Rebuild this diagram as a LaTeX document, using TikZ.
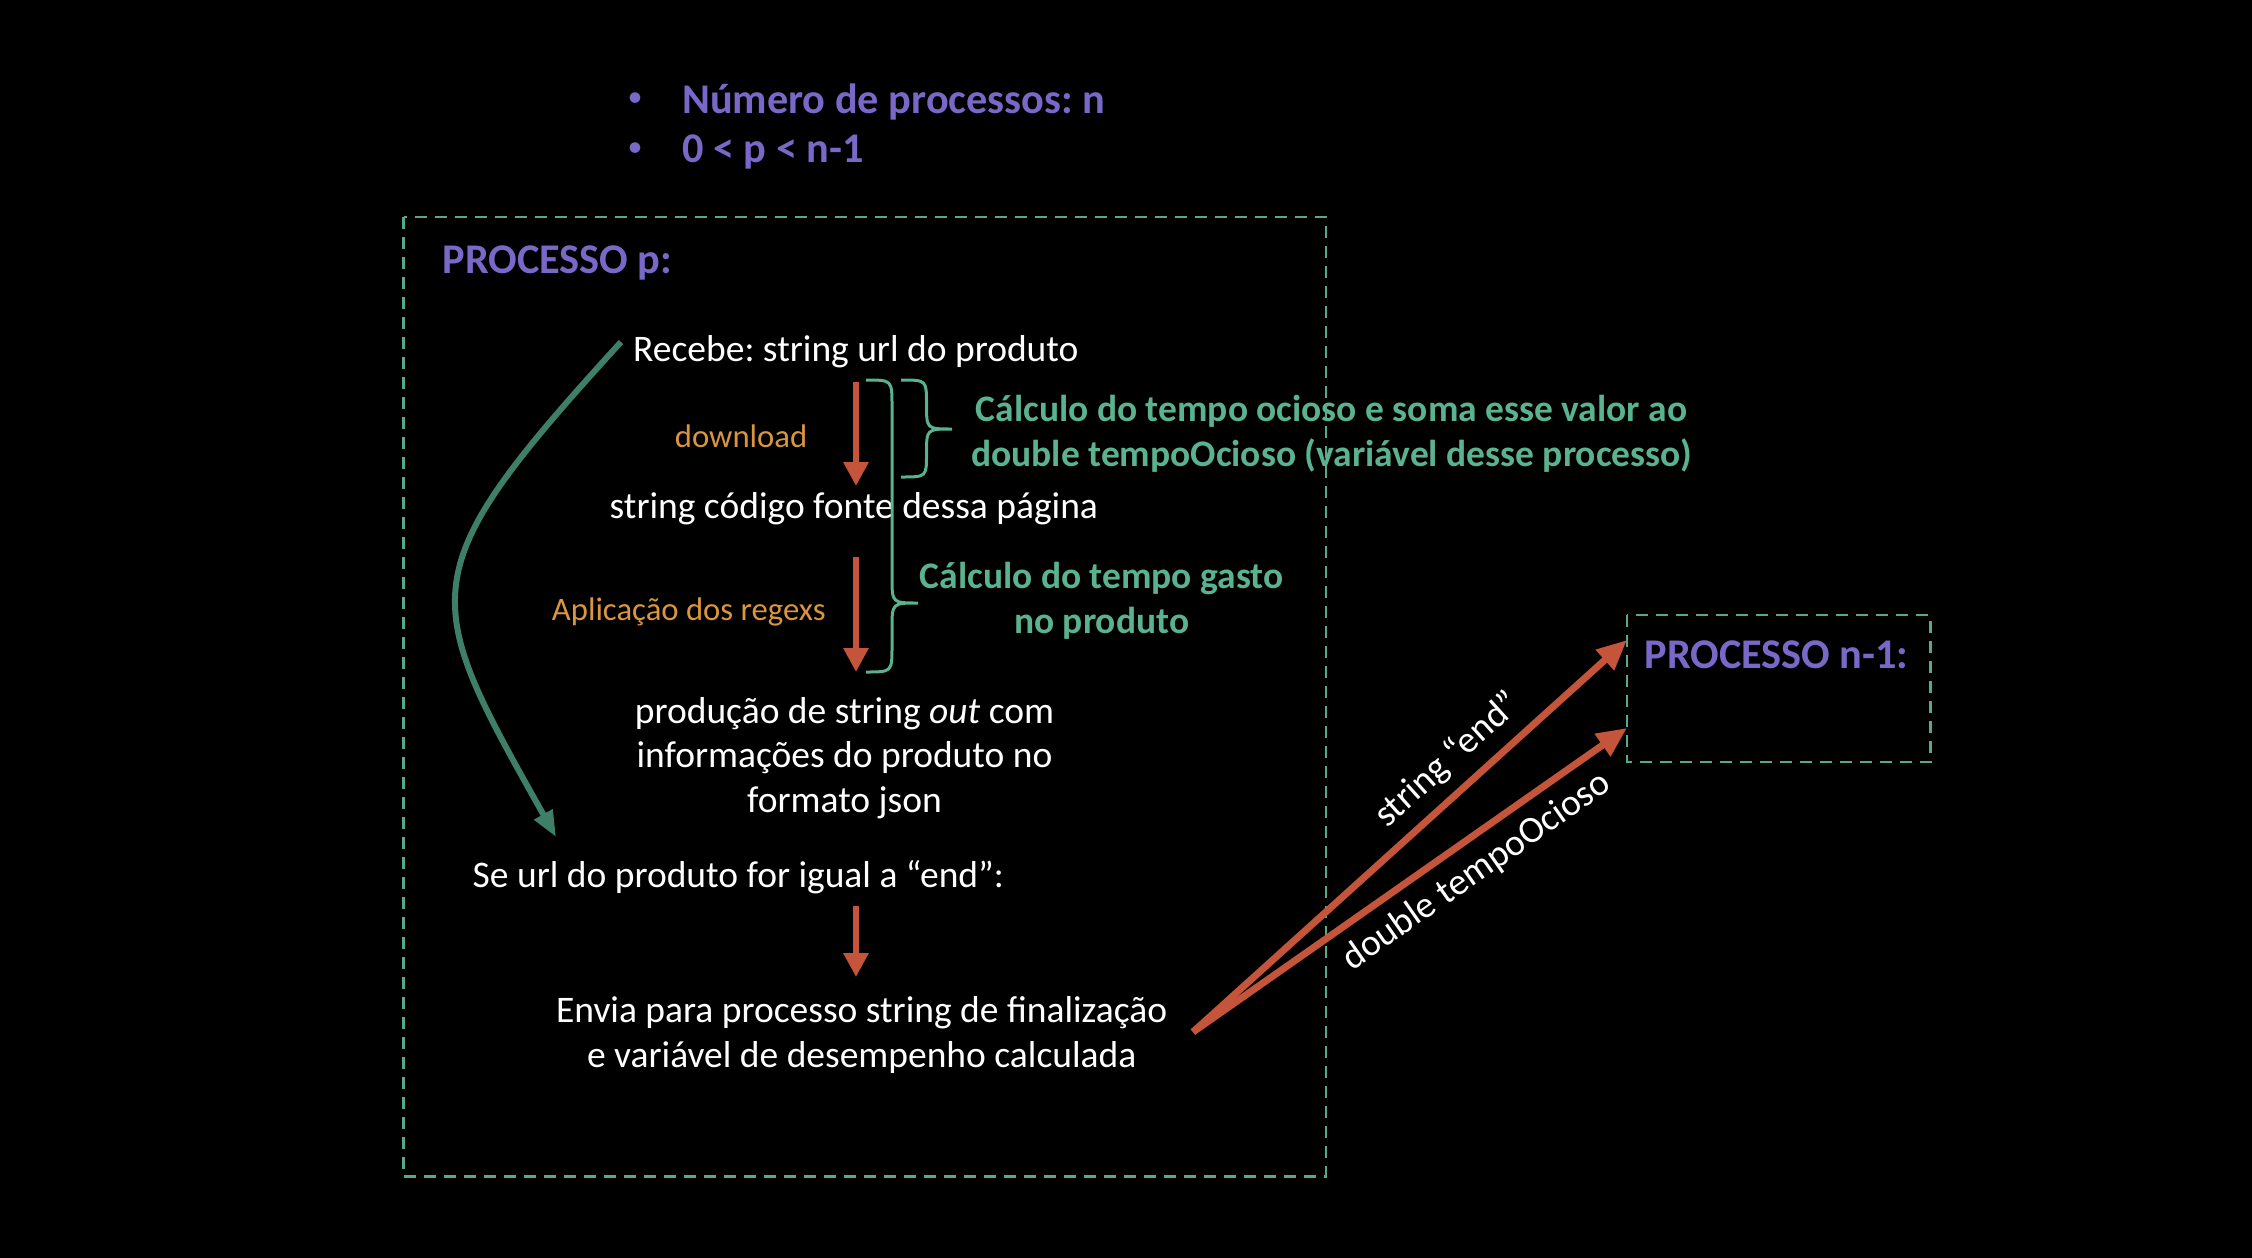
\documentclass[tikz,border=0pt]{standalone}
\usepackage{fontspec}
\setmainfont{Carlito}
\usetikzlibrary{arrows.meta}
\definecolor{purp}{RGB}{122,104,200}
\definecolor{grtxt}{RGB}{90,178,143}
\definecolor{boxgreen}{RGB}{86,170,138}
\definecolor{curvegreen}{RGB}{62,127,104}
\definecolor{orng}{RGB}{218,150,62}
\definecolor{redc}{RGB}{196,84,58}
\newcommand\bodyfnt{\fontsize{37.5}{44.7}\selectfont}
\newcommand\headfnt{\fontsize{42.3}{49}\selectfont\bfseries}
\newcommand\smallfnt{\fontsize{32.7}{39}\selectfont}
\newcommand\bulletfnt{\fontsize{30}{32}\selectfont}
\frenchspacing
\begin{document}
\begin{tikzpicture}[x=1pt,y=-1pt,
  txt/.style={text=white, font=\bodyfnt, inner sep=0pt, align=center},
  grn/.style={text=grtxt, font=\bodyfnt\bfseries, inner sep=0pt, align=center},
  org/.style={text=orng, font=\smallfnt, inner sep=0pt},
  head/.style={text=purp, font=\headfnt, inner sep=0pt},
  bulletmark/.style={text=purp, font=\bulletfnt, inner sep=0pt},
  redarrow/.style={draw=redc, line width=6pt, -{Triangle[length=24pt,width=24pt]}},
  bigred/.style={draw=redc, line width=7pt, -{Triangle[length=30pt,width=26pt]}},
  procbox/.style={draw=boxgreen, line width=2.5pt, dash pattern=on 12pt off 8pt},
  bracestyle/.style={draw=grtxt, line width=3pt},
  loopcurve/.style={draw=curvegreen, line width=6pt, -{Triangle[length=26pt,width=20pt]}}]
\fill[black] (0,0) rectangle (2252,1258);
\useasboundingbox (0,0) rectangle (2252,1258);

% header bullets
\node[bulletmark, anchor=center] (b1) at (635,99.3) {•};
\node[head, anchor=base west] (h1) at (682,113.3) {Número de processos: n};
\node[bulletmark, anchor=center] (b2) at (635,149.3) {•};
\node[head, anchor=base west] (h2) at (682,162.7) {0 < p < n-1};

% boxes
\draw[procbox] (403.6,217) rectangle (1326,1176.3);
\draw[procbox] (1627,615) rectangle (1930.5,762);
\node[head, anchor=base west] (pp) at (442.3,273) {PROCESSO p:};
\node[head, anchor=base west] (pn) at (1644.4,668) {PROCESSO n-1:};

% texts (multi-line nodes: base = baseline of last line)
\node[txt, anchor=base west] (recebe) at (633,361.7) {Recebe: string url do produto};
\node[txt, anchor=base] (codigo) at (853.9,518) {string código fonte dessa página};
\node[txt, anchor=base] (producao) at (844.5,812.4) {produção de string \textit{out} com\\informações do produto no\\formato json};
\node[txt, anchor=base west] (seurl) at (472.5,887) {Se url do produto for igual a “end”:};
\node[txt, anchor=base] (envia) at (861.7,1067) {Envia para processo string de finalização\\e variável de desempenho calculada};

\node[org, anchor=base east] (download) at (807.5,447) {download};
\node[org, anchor=base east] (regex) at (825.8,620.7) {Aplicação dos regexs};

\node[grn, anchor=base] (ocioso) at (1331.5,466) {Cálculo do tempo ocioso e soma esse valor ao\\double tempoOcioso (variável desse processo)};
\node[grn, anchor=base] (gasto) at (1101.6,633) {Cálculo do tempo gasto\\no produto};

% vertical red arrows
\coordinate (a1s) at (856,382);
\coordinate (a1e) at (856,486);
\coordinate (a2s) at (856,557);
\coordinate (a2e) at (856,672);
\coordinate (a3s) at (856,906);
\coordinate (a3e) at (856,977);
\draw[redarrow] (a1s) -- (a1e);
\draw[redarrow] (a2s) -- (a2e);
\draw[redarrow] (a3s) -- (a3e);

% braces
\draw[bracestyle] (901,380) .. controls (926.5,380) .. (926.5,404)
  .. controls (926.5,429) .. (952,429)
  .. controls (926.5,429) .. (926.5,454)
  .. controls (926.5,477) .. (901,477);
\draw[bracestyle] (866,380) .. controls (892,380) .. (892,406) -- (892,577)
  .. controls (892,603) .. (918,603)
  .. controls (892,603) .. (892,629) -- (892,646)
  .. controls (892,672) .. (866,672);

% green loop curve
\coordinate (cs) at (621,342);
\coordinate (ce) at (556,837);
\draw[loopcurve] (cs) .. controls (408,575) and (420,595) .. (ce);

% diagonal arrows
\coordinate (ds) at (1193,1032);
\coordinate (d1) at (1627,640);
\coordinate (d2) at (1627,728);
\draw[bigred] (ds) -- (d1);
\draw[bigred] (ds) -- (d2);
\node[txt, rotate=42] (lend) at (1448,760) {string “end”};
\node[txt, rotate=35] (ltempo) at (1477,871.7) {double tempoOcioso};
\end{tikzpicture}
\end{document}
